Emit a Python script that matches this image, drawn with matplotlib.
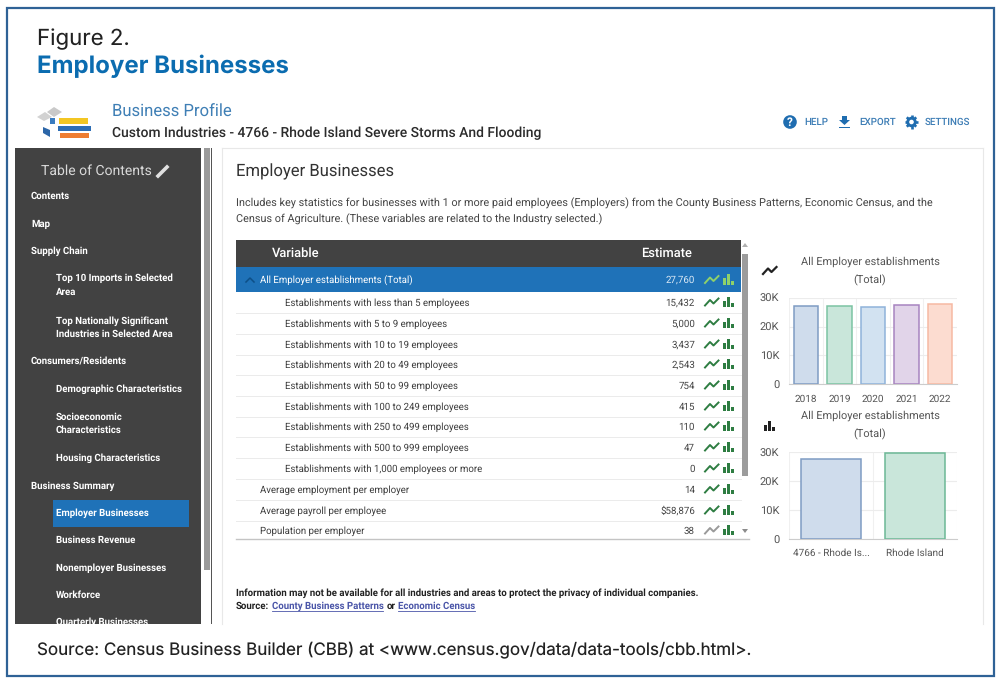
import matplotlib
matplotlib.use("Agg")
import matplotlib.pyplot as plt
from matplotlib.patches import Rectangle, Circle, Polygon
from matplotlib.ticker import FuncFormatter

plt.rcParams["text.hinting"] = "no_hinting"

# ---- data ----
years = ["2018", "2019", "2020", "2021", "2022"]
year_values = [27100, 27200, 26900, 27300, 27760]
areas = ["4766 - Rhode Is...", "Rhode Island"]
area_values = [27760, 29600]
table_labels = [
    "All Employer establishments (Total)",
    "Establishments with less than 5 employees",
    "Establishments with 5 to 9 employees",
    "Establishments with 10 to 19 employees",
    "Establishments with 20 to 49 employees",
    "Establishments with 50 to 99 employees",
    "Establishments with 100 to 249 employees",
    "Establishments with 250 to 499 employees",
    "Establishments with 500 to 999 employees",
    "Establishments with 1,000 employees or more",
    "Average employment per employer",
    "Average payroll per employee",
    "Population per employer",
]
table_values = ["27,760", "15,432", "5,000", "3,437", "2,543", "754", "415",
                "110", "47", "0", "14", "$58,876", "38"]
table_indent = [0, 1, 1, 1, 1, 1, 1, 1, 1, 1, 0, 0, 0]
toc_items = [
    ("Contents", 0), ("Map", 0), ("Supply Chain", 0),
    ("Top 10 Imports in Selected\nArea", 1),
    ("Top Nationally Significant\nIndustries in Selected Area", 1),
    ("Consumers/Residents", 0), ("Demographic Characteristics", 1),
    ("Socioeconomic\nCharacteristics", 1), ("Housing Characteristics", 1),
    ("Business Summary", 0), ("Employer Businesses", 1), ("Business Revenue", 1),
    ("Nonemployer Businesses", 1), ("Workforce", 1), ("Quarterly Businesses", 1),
]
toc_y = [196, 224, 251, 278, 320, 362, 389, 416, 458, 486, 513, 540, 568, 595, 622]
row_y = [279.5, 302, 323, 344, 364, 385, 406, 426, 447, 468, 489, 510, 530]

year_fill = ["#cfdcec", "#c9e6da", "#d2e2f1", "#e1d4e9", "#fcdcd0"]
year_edge = ["#7f9cc3", "#7cc4a3", "#8fb3da", "#a784c0", "#f6b9a3"]
area_fill = ["#cfdcec", "#c9e6da"]
area_edge = ["#7f9cc3", "#6cb896"]

UI = "Roboto"
HEAD = "Inter"
DARK = "#424242"
BLUE = "#1f72b8"
GREEN = "#2e7d42"

fig = plt.figure(figsize=(10, 6.83), dpi=100, facecolor="white")
bg = fig.add_axes([0, 0, 1, 1])
bg.set_xlim(0, 1000)
bg.set_ylim(683, 0)
bg.axis("off")


def rect(x0, y0, x1, y1, fc="none", ec="none", lw=0, z=1, ax=bg):
    p = Rectangle((x0, y0), x1 - x0, y1 - y0, fc=fc, ec=ec, lw=lw, zorder=z)
    ax.add_patch(p)
    return p


def txt(x, y, s, size, color="#333333", weight="normal", family=UI, ha="left", va="center", **kw):
    return bg.text(x, y + 0.8, s, fontsize=size, color=color, fontweight=weight,
                   family=family, ha=ha, va=va, **kw)


def spark_icon(x, y, color, lw=1.4):
    bg.plot([x, x + 5, x + 8.5, x + 13.5], [y + 3.5, y - 2, y + 1.5, y - 3.5],
            color=color, lw=lw, zorder=6, solid_joinstyle="round")


def bars_icon(x, y, color):
    for dx, h in zip([0, 4, 8], [6.5, 10.5, 4]):
        rect(x + dx, y + 5 - h, x + dx + 2.8, y + 5, fc=color, z=6)


# outer frame
rect(6.5, 7.5, 994, 676, ec="#2f6296", lw=1.6, z=0.5)

# heading / footer
txt(37, 38, "Figure 2.", 16, color="#222222", family=HEAD)
txt(37, 65.5, "Employer Businesses", 17.3, color="#0b6cb0", weight="bold", family=HEAD)
txt(37, 649.5, "Source: Census Business Builder (CBB) at <www.census.gov/data/data-tools/cbb.html>.",
    12.25, color="#222222", family=HEAD)

# app header
txt(112, 111.5, "Business Profile", 12, color="#3f7fb5")
txt(112, 132.5, "Custom Industries - 4766 - Rhode Island Severe Storms And Flooding", 9.96, color="#2b2b2b",
    weight="medium")

# logo
bg.add_patch(Polygon([[47, 112], [54, 107], [62, 112], [54, 117]], fc="#c9c9c9", zorder=2))
bg.add_patch(Polygon([[37, 117], [45, 112], [52, 117], [44, 121]], fc="#d2d2d2", zorder=2))
rect(50, 118, 55, 124, fc="#3a7cc0", z=2)
bg.add_patch(Polygon([[43, 127], [50, 130], [50, 137], [43, 133]], fc="#2c66a8", zorder=2))
rect(59, 118, 88, 124, fc="#f3c623", z=2)
rect(58, 125.5, 91, 130.5, fc="#2d6db5", z=2)
rect(60, 132.5, 89, 137.5, fc="#ee7d31", z=2)

# header actions
bg.add_patch(Circle((790, 122), 6.8, fc="#1f6db0", zorder=3))
txt(790, 121.5, "?", 8.5, color="white", weight="bold", ha="center", zorder=4)
txt(804, 121.5, "HELP", 7, color="#3d7db5", weight="medium")
bg.add_patch(Polygon([[842, 116], [847, 116], [847, 120], [850, 120], [844.5, 125], [839, 120], [842, 120]],
                     fc="#1f6db0", zorder=3))
rect(839, 126.5, 850, 128, fc="#1f6db0", z=3)
txt(859, 121.5, "EXPORT", 7, color="#3d7db5", weight="medium")
bg.add_patch(Circle((911.5, 122), 5.2, fc="#1f6db0", zorder=3))
for dx, dy in [(6.6, 0), (0, 6.6), (4.7, 4.7), (4.7, -4.7)]:
    bg.plot([911.5 - dx, 911.5 + dx], [122 - dy, 122 + dy], color="#1f6db0", lw=1.9, zorder=3,
            solid_capstyle="butt")
bg.add_patch(Circle((911.5, 122), 2.3, fc="white", zorder=4))
txt(925, 121.5, "SETTINGS", 7, color="#3d7db5", weight="medium")

# sidebar
rect(15, 148, 201, 624, fc=DARK, z=1)
rect(204, 148, 210, 570, fc="#9a9a9a", z=1)
rect(211, 148, 212, 624, fc="#555555", z=1)
clip = rect(0, 148, 1000, 624, z=0)
txt(96, 170.5, "Table of Contents", 10.1, color="#d9d9d9", ha="center")
bg.plot([158, 167], [176, 167], color="#e0e0e0", lw=2.6, zorder=3)
rect(53, 500, 189, 527, fc=BLUE, z=2)
for (label, level), y in zip(toc_items, toc_y):
    t = bg.text(56 if level else 31, y if "\n" not in label else y + 7.5, label,
                fontsize=6.9, color="white", fontweight="bold", family=UI,
                ha="left", va="center", linespacing=1.55, zorder=3)
    t.set_clip_path(clip)

# content panel
bg.plot([222, 222], [148, 624], color="#e8e8e8", lw=0.8, zorder=0.6)
bg.plot([222, 983], [148, 148], color="#e8e8e8", lw=0.8, zorder=0.6)
bg.plot([983, 983], [148, 624], color="#e8e8e8", lw=0.8, zorder=0.6)
txt(236, 171.5, "Employer Businesses", 12, color="#333333")
txt(236, 203, "Includes key statistics for businesses with 1 or more paid employees (Employers) from the County Business Patterns, Economic Census, and the",
    7.8, color="#444444")
txt(236, 218.5, "Census of Agriculture. (These variables are related to the Industry selected.)", 7.8, color="#444444")

# table
rect(236, 240, 741, 267, fc=DARK, z=2)
txt(272, 253, "Variable", 9.3, color="white", weight="medium", zorder=3)
txt(692, 253, "Estimate", 9.3, color="white", weight="medium", ha="right", zorder=3)
rect(236, 267, 741, 292, fc=BLUE, z=2)
for i, (label, value, ind, y) in enumerate(zip(table_labels, table_values, table_indent, row_y)):
    color = "white" if i == 0 else "#3c3c3c"
    txt(285 if ind else 260, y, label, 6.95, color=color, zorder=3)
    txt(695, y, value, 7, color="#dbe9f5" if i == 0 else "#444444", ha="right", zorder=3)
    spark = "#8fd16a" if i == 0 else ("#9a9a9a" if i == 12 else GREEN)
    spark_icon(705, y, spark)
    bars_icon(723, y, "#8fd16a" if i == 0 else GREEN)
    if 1 <= i < 12:
        bg.plot([236, 741], [y + 10.5] * 2, color="#ebebeb", lw=0.7, zorder=2)
bg.plot([236, 749], [538.5, 538.5], color="#c4c4c4", lw=1, zorder=2)
bg.plot([246, 250, 254], [282, 278, 282], color="#0d4f87", lw=1.1, zorder=3)
rect(742, 254, 748, 476, fc="#9c9c9c", z=2)
bg.add_patch(Polygon([[742, 247], [748, 247], [745, 243]], fc="#b0b0b0", zorder=3))
bg.add_patch(Polygon([[742, 529], [748, 529], [745, 533]], fc="#8c8c8c", zorder=3))

# notes
txt(236, 592, "Information may not be available for all industries and areas to protect the privacy of individual companies.",
    6.95, color="#222222", weight="bold")
txt(236, 605.5, "Source:", 6.95, color="#222222", weight="bold")
txt(271.5, 605.5, "County Business Patterns", 6.95, color="#4a55a8", weight="bold", zorder=3)
bg.plot([271.5, 383], [610.5, 610.5], color="#4a55a8", lw=0.6)
txt(386.5, 605.5, "or", 6.95, color="#222222", weight="bold")
txt(397.5, 605.5, "Economic Census", 6.95, color="#4a55a8", weight="bold")
bg.plot([397.5, 474.5], [610.5, 610.5], color="#4a55a8", lw=0.6)

# chart titles & icons
for y0 in (260.5, 415):
    txt(870, y0, "All Employer establishments", 7.9, color="#555555", ha="center")
    txt(870, y0 + 19, "(Total)", 7.9, color="#555555", ha="center")
spark_icon(763, 270.5, "#222222", lw=1.6)
bars_icon(764, 426, "#222222")


def make_chart(top, bottom, cats, vals, fills, edges, width, xpad):
    ax = fig.add_axes([789 / 1000, 1 - bottom / 683, (957 - 789) / 1000, (bottom - top) / 683])
    ax.bar(cats, vals, width=width, color=fills, edgecolor=edges, linewidth=1.1, zorder=3)
    ax.set_ylim(0, 30000)
    ax.set_xlim(-0.5, len(cats) - 0.5)
    ax.set_yticks([0, 10000, 20000, 30000])
    ax.yaxis.set_major_formatter(FuncFormatter(lambda v, _: "0" if v == 0 else f"{int(v/1000)}K"))
    ax.set_xticks([i - 0.5 for i in range(len(cats) + 1)], minor=True)
    ax.grid(axis="y", color="#ececec", lw=0.8, zorder=0)
    ax.grid(axis="x", which="minor", color="#f0f0f0", lw=0.8, zorder=0)
    ax.xaxis.grid(False, which="major")
    for s in ("top", "right", "left"):
        ax.spines[s].set_visible(False)
    ax.spines["bottom"].set_color("#cccccc")
    ax.tick_params(axis="both", which="both", length=0)
    ax.tick_params(axis="y", labelsize=8, labelcolor="#555555", pad=7)
    ax.tick_params(axis="x", labelsize=7.2, labelcolor="#555555", pad=xpad)
    for lab in ax.get_xticklabels() + ax.get_yticklabels():
        lab.set_family(UI)
    ax.patch.set_alpha(0)
    return ax


make_chart(297.7, 384.3, years, year_values, year_fill, year_edge, 0.73, 7.2)
make_chart(452.3, 539.3, areas, area_values, area_fill, area_edge, 0.72, 6.6)

fig.savefig("out.png", dpi=100)
